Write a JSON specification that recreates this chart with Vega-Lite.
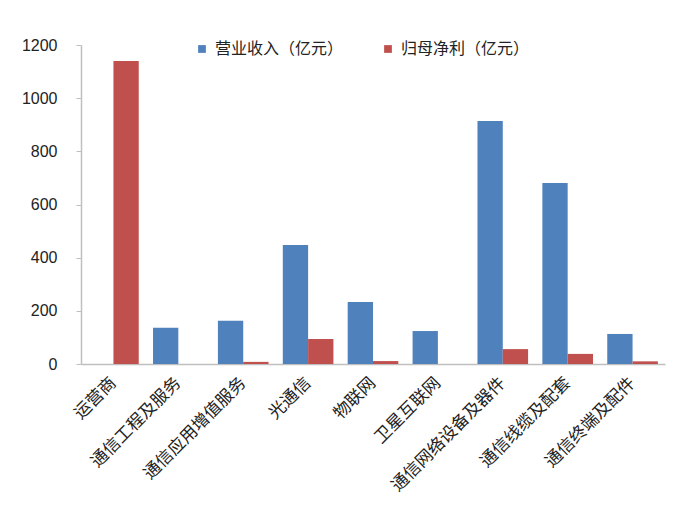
{
  "$schema": "https://vega.github.io/schema/vega-lite/v6.json",
  "width": 584,
  "height": 319,
  "autosize": {"type": "none"},
  "padding": {"left": 81, "top": 45, "right": 13, "bottom": 143},
  "background": "white",
  "config": {
    "view": {"stroke": null},
    "font": "Noto Sans CJK SC"
  },
  "data": {
    "values": [
      {"cat": "运营商", "series": "归母净利（亿元）", "value": 1140},
      {"cat": "通信工程及服务", "series": "营业收入（亿元）", "value": 136},
      {"cat": "通信应用增值服务", "series": "营业收入（亿元）", "value": 163},
      {"cat": "通信应用增值服务", "series": "归母净利（亿元）", "value": 8},
      {"cat": "光通信", "series": "营业收入（亿元）", "value": 448},
      {"cat": "光通信", "series": "归母净利（亿元）", "value": 94},
      {"cat": "物联网", "series": "营业收入（亿元）", "value": 233},
      {"cat": "物联网", "series": "归母净利（亿元）", "value": 11},
      {"cat": "卫星互联网", "series": "营业收入（亿元）", "value": 124},
      {"cat": "通信网络设备及器件", "series": "营业收入（亿元）", "value": 914},
      {"cat": "通信网络设备及器件", "series": "归母净利（亿元）", "value": 56},
      {"cat": "通信线缆及配套", "series": "营业收入（亿元）", "value": 681},
      {"cat": "通信线缆及配套", "series": "归母净利（亿元）", "value": 38},
      {"cat": "通信终端及配件", "series": "营业收入（亿元）", "value": 113},
      {"cat": "通信终端及配件", "series": "归母净利（亿元）", "value": 10}
    ]
  },
  "mark": {"type": "bar"},
  "encoding": {
    "x": {
      "field": "cat",
      "type": "nominal",
      "sort": ["运营商", "通信工程及服务", "通信应用增值服务", "光通信", "物联网", "卫星互联网", "通信网络设备及器件", "通信线缆及配套", "通信终端及配件"],
      "scale": {"paddingInner": 0.22, "paddingOuter": 0.11},
      "axis": {
        "title": null,
        "labelAngle": -45,
        "labelAlign": "right",
        "labelBaseline": "middle",
        "labelFontSize": 17,
        "labelColor": "#222222",
        "labelLimit": 240,
        "labelPadding": 16,
        "ticks": false,
        "domainColor": "#BFBFBF",
        "domainWidth": 1.5
      }
    },
    "xOffset": {
      "field": "series",
      "type": "nominal",
      "sort": ["营业收入（亿元）", "归母净利（亿元）"],
      "scale": {"paddingInner": 0}
    },
    "y": {
      "field": "value",
      "type": "quantitative",
      "scale": {"domain": [0, 1200]},
      "axis": {
        "title": null,
        "values": [0, 200, 400, 600, 800, 1000, 1200],
        "format": "d",
        "grid": false,
        "labelFont": "Liberation Sans",
        "labelFontSize": 16,
        "labelColor": "#222222",
        "labelPadding": 19,
        "tickSize": 5,
        "tickColor": "#BFBFBF",
        "domainColor": "#BFBFBF",
        "domainWidth": 1.5
      }
    },
    "color": {
      "field": "series",
      "type": "nominal",
      "sort": ["营业收入（亿元）", "归母净利（亿元）"],
      "scale": {"range": ["#4F81BD", "#C0504D"]},
      "legend": {
        "title": null,
        "orient": "none",
        "legendX": 113,
        "legendY": -4,
        "direction": "horizontal",
        "symbolType": "square",
        "symbolSize": 60,
        "labelFontSize": 16,
        "labelColor": "#222222",
        "columnPadding": 36,
        "labelOffset": 5
      }
    }
  }
}
